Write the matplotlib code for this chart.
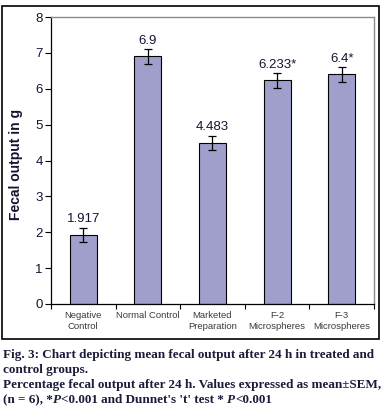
import matplotlib
matplotlib.use("Agg")
import matplotlib.pyplot as plt
from matplotlib.patches import Rectangle
import numpy as np

categories = ["Negative\nControl", "Normal Control", "Marketed\nPreparation",
              "F-2\nMicrospheres", "F-3\nMicrospheres"]
values = [1.917, 6.9, 4.483, 6.233, 6.4]
errors = [0.2, 0.2, 0.2, 0.21, 0.2]
value_labels = ["1.917", "6.9", "4.483", "6.233*", "6.4*"]
yticks = [0, 1, 2, 3, 4, 5, 6, 7, 8]

W, H = 385, 413
fig = plt.figure(figsize=(W / 100, H / 100), dpi=100)
fig.patch.set_facecolor("white")

# outer box
fig.patches.append(Rectangle((2 / W, 1 - 339 / H), 377 / W, 333 / H,
                             transform=fig.transFigure, fill=False,
                             edgecolor="black", linewidth=1.2))

ax = fig.add_axes([51 / W, 1 - 304 / H, (374 - 51) / W, (304 - 17) / H])
x = np.arange(len(values))
ax.bar(x, values, width=0.42, color="#A09FCC", edgecolor="black", linewidth=0.8,
       yerr=errors, capsize=3.2,
       error_kw=dict(elinewidth=0.9, capthick=0.9, ecolor="black"))

ax.set_xlim(-0.5, len(values) - 0.5)
ax.set_ylim(0, 8)
ax.set_yticks(yticks)
ax.set_yticklabels([str(t) for t in yticks], fontsize=9.5,
                   family=["Liberation Sans", "DejaVu Sans"], color="#141432")
ax.tick_params(axis="y", direction="out", length=4, width=0.8, pad=2)

ax.set_xticks(np.arange(-0.5, len(values), 1.0))
ax.set_xticklabels([])
ax.tick_params(axis="x", direction="out", length=3.5, width=0.8)
for i, c in enumerate(categories):
    ax.text(i, -0.2, c, ha="center", va="top", fontsize=6.8,
            family=["Liberation Sans Narrow", "Liberation Sans", "DejaVu Sans"],
            color="#3a3a3a", linespacing=1.3)

for i, (v, lab) in enumerate(zip(values, value_labels)):
    ax.text(i, v + 0.44, lab, ha="center", va="center", fontsize=9.5,
            family=["Liberation Sans", "DejaVu Sans"], color="#141432")

for s in ["top", "right"]:
    ax.spines[s].set_color("#8a8a8a")
    ax.spines[s].set_linewidth(1.0)
for s in ["left", "bottom"]:
    ax.spines[s].set_color("black")
    ax.spines[s].set_linewidth(0.9)

ax.set_ylabel("Fecal output in g", fontsize=10, fontweight="bold",
              family=["Liberation Sans", "DejaVu Sans"], color="#141432")
ax.yaxis.set_label_coords(-0.087, 0.488)

# caption
cap_color = "#1b1b3a"
serif = ["Liberation Serif", "DejaVu Serif"]
lines = [
    [("Fig. 3: Chart depicting mean fecal output after 24 h in treated and", "normal")],
    [("control groups.", "normal")],
    [("Percentage fecal output after 24 h. Values expressed as mean\u00b1SEM,", "normal")],
    [("(n = 6), *", "normal"), ("P", "italic"), ("<0.001 and Dunnet's 't' test * ", "normal"),
     ("P", "italic"), ("<0.001", "normal")],
]
tops = [349, 364, 379, 394]
fig.canvas.draw()
renderer = fig.canvas.get_renderer()

# fit font size so the widest line spans the caption width
fs0 = 10.0
widths = []
for line in lines:
    w = 0
    for txt, style in line:
        t = fig.text(0, 0, txt, fontsize=fs0, fontweight="bold", fontstyle=style, family=serif)
        w += t.get_window_extent(renderer=renderer).width
        t.remove()
    widths.append(w)
fs = fs0 * 378 / max(widths)

for line, top in zip(lines, tops):
    xpx = 3
    for txt, style in line:
        t = fig.text(xpx / W, 1 - top / H, txt, ha="left", va="top", fontsize=fs,
                     fontweight="bold", fontstyle=style, family=serif, color=cap_color)
        bb = t.get_window_extent(renderer=renderer)
        xpx += bb.width

fig.savefig("out.png", dpi=100, facecolor="white")
